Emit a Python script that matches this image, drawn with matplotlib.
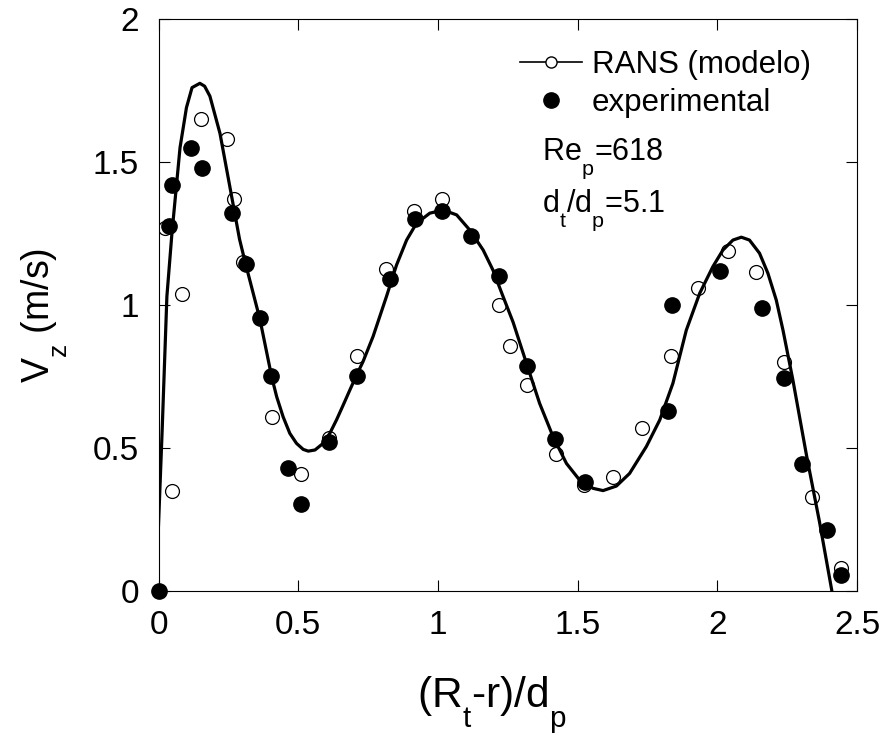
import matplotlib
matplotlib.use("Agg")
import matplotlib.pyplot as plt
from matplotlib.lines import Line2D
from matplotlib.ticker import FormatStrFormatter
import matplotlib._mathtext as mathtext_internal

plt.rcParams['font.family'] = 'Liberation Sans'
plt.rcParams['mathtext.fontset'] = 'custom'
plt.rcParams['mathtext.rm'] = 'Liberation Sans'
plt.rcParams['mathtext.it'] = 'Liberation Sans'
# subscripts sit lower in the original figure
mathtext_internal.FontConstantsBase.sub1 = 0.9

# RANS model curve
curve_x = [0, 0.013, 0.03, 0.048, 0.077, 0.10, 0.12, 0.148, 0.165, 0.184, 0.22, 0.256,
           0.29, 0.31, 0.363, 0.405, 0.423, 0.446, 0.470, 0.494, 0.518, 0.536, 0.560,
           0.589, 0.613, 0.637, 0.661, 0.685, 0.709, 0.732, 0.768, 0.816, 0.852, 0.888,
           0.923, 0.971, 1.019, 1.067, 1.114, 1.162, 1.197, 1.233, 1.269, 1.317, 1.364,
           1.412, 1.460, 1.507, 1.555, 1.591, 1.639, 1.686, 1.746, 1.794, 1.841, 1.889,
           1.937, 1.984, 2.020, 2.056, 2.086, 2.115, 2.151, 2.181, 2.211, 2.235, 2.27,
           2.32, 2.366, 2.41]
curve_y = [0.23, 0.56, 1.03, 1.25, 1.55, 1.69, 1.76, 1.775, 1.765, 1.73, 1.60, 1.41,
           1.23, 1.15, 0.95, 0.749, 0.679, 0.609, 0.551, 0.516, 0.495, 0.489, 0.493,
           0.516, 0.551, 0.598, 0.650, 0.703, 0.755, 0.802, 0.89, 1.03, 1.14, 1.227,
           1.285, 1.321, 1.332, 1.315, 1.262, 1.192, 1.122, 1.03, 0.94, 0.796, 0.656,
           0.540, 0.446, 0.388, 0.359, 0.351, 0.367, 0.411, 0.505, 0.598, 0.726, 0.912,
           1.041, 1.134, 1.192, 1.227, 1.237, 1.227, 1.181, 1.111, 1.017, 0.912, 0.74,
           0.47, 0.24, 0.0]

# RANS model values (open circles)
rans_x = [0.024, 0.05, 0.083, 0.152, 0.245, 0.27, 0.303, 0.405, 0.51, 0.61, 0.71, 0.815,
          0.915, 1.015, 1.218, 1.257, 1.318, 1.422, 1.522, 1.625, 1.73, 1.833, 1.93,
          2.037, 2.137, 2.237, 2.34, 2.444]
rans_y = [1.27, 0.35, 1.04, 1.65, 1.58, 1.37, 1.15, 0.61, 0.41, 0.535, 0.82, 1.125,
          1.33, 1.37, 1.0, 0.857, 0.72, 0.48, 0.37, 0.40, 0.57, 0.82, 1.06,
          1.19, 1.115, 0.80, 0.33, 0.08]

# experimental values (filled circles)
exp_x = [0.0, 0.038, 0.048, 0.116, 0.156, 0.263, 0.313, 0.363, 0.402, 0.463, 0.51, 0.61,
         0.71, 0.828, 0.917, 1.014, 1.12, 1.22, 1.32, 1.42, 1.528, 1.823, 1.836, 2.011,
         2.159, 2.24, 2.302, 2.394, 2.444]
exp_y = [0.0, 1.275, 1.42, 1.55, 1.48, 1.32, 1.145, 0.955, 0.75, 0.43, 0.305, 0.52,
         0.75, 1.09, 1.30, 1.33, 1.24, 1.10, 0.787, 0.53, 0.38, 0.63, 1.0, 1.12,
         0.99, 0.745, 0.445, 0.213, 0.055]

fig = plt.figure(figsize=(8.86, 7.38), dpi=100)
ax = fig.add_axes([0.1789, 0.1992, 0.7884, 0.7751])

ax.scatter(rans_x, rans_y, s=10**2, facecolors='white', edgecolors='black', linewidths=0.9, zorder=2)
ax.plot(curve_x, curve_y, color='black', lw=2.3, zorder=3)
ax.scatter(exp_x, exp_y, s=11**2, color='black', zorder=4, clip_on=False)

ax.set_xlim(0, 2.5)
ax.set_ylim(0, 2)
ax.set_xticks([0, 0.5, 1, 1.5, 2, 2.5])
ax.set_yticks([0, 0.5, 1, 1.5, 2])
ax.xaxis.set_major_formatter(FormatStrFormatter('%g'))
ax.yaxis.set_major_formatter(FormatStrFormatter('%g'))
ax.tick_params(direction='in', length=8, width=0.8, top=True, right=True, labelsize=24, pad=14)
for sp in ax.spines.values():
    sp.set_linewidth(0.8)

ax.set_xlabel(r'($\mathrm{R_t}$-r)/$\mathrm{d_p}$', fontsize=30.5)
ax.xaxis.set_label_coords(0.477, -0.147)
ax.set_ylabel(r'$\mathrm{V_z}$ (m/s)', fontsize=27)
ax.yaxis.set_label_coords(-0.127, 0.4825)

handles = [Line2D([], [], color='black', lw=1.2, marker='o', ms=8, mfc='white', mec='black', mew=1),
           Line2D([], [], ls='none', marker='o', ms=11, color='black')]
ax.legend(handles, ['RANS (modelo)', 'experimental'], loc='upper left',
          bbox_to_anchor=(0.5175, 0.946), frameon=False, fontsize=22.5,
          handlelength=2.0, handletextpad=0.3, labelspacing=0.26,
          borderpad=0, borderaxespad=0)

ax.text(0.549, 0.7535, r'$\mathrm{Re_p}$=618', transform=ax.transAxes, fontsize=22, va='baseline')
ax.text(0.549, 0.6626, r'$\mathrm{d_t}$/$\mathrm{d_p}$=5.1', transform=ax.transAxes, fontsize=22, va='baseline')

fig.savefig('out.png', dpi=100)
